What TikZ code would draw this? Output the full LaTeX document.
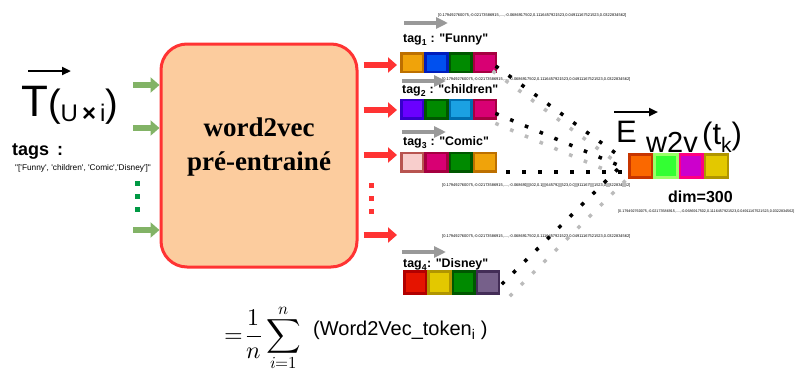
\documentclass[tikz,border=0pt]{standalone}
\usepackage{fontspec}
\usepackage{unicode-math}
\setmathfont{Latin Modern Math}
\setmainfont{Liberation Sans}[Ligatures=TeXOff]
\newfontfamily\serifb{Liberation Serif}
\usetikzlibrary{arrows.meta}
\definecolor{peach}{HTML}{FCCC9E}
\definecolor{boxred}{HTML}{FF3333}
\definecolor{garrow}{HTML}{82B366}
\definecolor{gdot}{HTML}{009944}
\definecolor{grayarr}{HTML}{999999}
\definecolor{dotgray}{HTML}{BBBBBB}
\definecolor{orF}{HTML}{F0A30A}\definecolor{orD}{HTML}{BD7000}
\definecolor{blF}{HTML}{0050EF}\definecolor{blD}{HTML}{001DBC}
\definecolor{grF}{HTML}{008A00}\definecolor{grD}{HTML}{005700}
\definecolor{pkF}{HTML}{D80073}\definecolor{pkD}{HTML}{A50040}
\definecolor{puF}{HTML}{6A00FF}\definecolor{puD}{HTML}{3700CC}
\definecolor{lbF}{HTML}{1BA1E2}\definecolor{lbD}{HTML}{006EAF}
\definecolor{lpF}{HTML}{F8CECC}\definecolor{lpD}{HTML}{B85450}
\definecolor{rdF}{HTML}{E51400}\definecolor{rdD}{HTML}{B20000}
\definecolor{yeF}{HTML}{E3C800}\definecolor{yeD}{HTML}{B09500}
\definecolor{mvF}{HTML}{76608A}\definecolor{mvD}{HTML}{432D57}
\definecolor{ooF}{HTML}{FA6800}\definecolor{ooD}{HTML}{C73500}
\definecolor{lgF}{HTML}{33FF33}\definecolor{lgD}{HTML}{99FF66}
\definecolor{mgF}{HTML}{CC00CC}\definecolor{mgD}{HTML}{FF0080}
\newcommand\vecstr{[0.179492760075,-0.02173586915,....,-0.0686917502,0.1116457921523,0.04911167521523,0.0322834562]}
\newcommand\vectxt{{\fontsize{3.95}{4}\selectfont\vecstr}}
\begin{document}
\begin{tikzpicture}[x=1pt,y=-1pt,
  sqbox/.style={draw, line width=2.5pt, minimum width=21.7pt, minimum height=18.5pt, inner sep=0pt},
  fatg/.style={draw=garrow, line width=6pt, -{Triangle[length=9pt,width=15pt]}},
  fatr/.style={draw=boxred, line width=6pt, -{Triangle[length=9pt,width=15pt]}},
  graya/.style={draw=grayarr, line width=4pt, -{Triangle[length=12pt,width=11pt]}},
  blacka/.style={draw=black, line width=2.5pt, -{Triangle[length=9pt,width=8pt]}},
  taglbl/.style={anchor=base west, font=\bfseries\fontsize{12.4}{12.4}\selectfont, inner sep=0pt},
  vlbl/.style={anchor=west, inner sep=0pt},
  bdots/.style={draw=black, line width=3.5pt, line cap=rect, dash pattern=on 0.1pt off 15.9pt},
  gdots/.style={draw=dotgray, line width=3.5pt, line cap=rect, dash pattern=on 0.1pt off 15.9pt},
  sqdot/.style={fill, minimum size=5pt, inner sep=0pt}
]
\useasboundingbox (0,0) rectangle (797,370);

% left input
\node[anchor=base west, inner sep=0pt] (tvec) at (21,116) {\fontsize{44}{44}\selectfont T\fontsize{38}{38}\selectfont(\raisebox{-5pt}{\fontsize{24}{24}\selectfont U\,\textbf{×}\,i})};
\coordinate (tarS) at (28,71);
\coordinate (tarE) at (71,71);
\draw[blacka] (tarS) -- (tarE);
\node[anchor=base west, inner sep=0pt, font=\bfseries\fontsize{18}{18}\selectfont] (tags) at (12,155) {tags\hspace{3pt} :};
\node[anchor=base west, inner sep=0pt, font=\fontsize{8.3}{8.3}\selectfont] (taglist) at (15,170) {"['Funny', 'children', 'Comic','Disney']"};

% main box
\node[draw=boxred, fill=peach, line width=3pt, rounded corners=26pt, minimum width=196pt, minimum height=223pt] (w2v) at (259,155.5) {};
\node[font=\serifb\bfseries\fontsize{27}{27}\selectfont, anchor=base] (w2vt1) at (259,136) {word2vec};
\node[font=\serifb\bfseries\fontsize{27}{27}\selectfont, anchor=base] (w2vt2) at (259,170) {pré-entrainé};

% green arrows
\foreach \yy/\nm in {85/ga, 128/gb, 230/gc} {
  \coordinate (\nm s) at (133,\yy);
  \draw[fatg] (\nm s) -- (w2v.west |- \nm s);
}
\foreach \yy/\nm in {183/gd1,196/gd2,209/gd3} \node[sqdot, gdot] (\nm) at (137,\yy) {};

% red arrows
\foreach \yy/\nm in {65/ra, 110/rb, 155/rc, 235/rd} {
  \coordinate (\nm e) at (397,\yy);
  \draw[fatr] (w2v.east |- \nm e) ++(5,0) -- (\nm e);
}
\foreach \yy/\nm in {185/rd1,198/rd2,211/rd3} \node[sqdot, boxred] (\nm) at (371,\yy) {};

% tag rows
% row 1
\node[vlbl] (v1) at (438,15) {\vectxt};
\coordinate (g1s) at (404,23); \coordinate (g1e) at (448,23);
\draw[graya] (g1s) -- (g1e);
\node[taglbl] (t1) at (403,42) {tag\textsubscript{1} : "Funny"};
\node[sqbox, fill=orF, draw=orD] (r1a) at (412.1,62.5) {};
\node[sqbox, fill=blF, draw=blD] (r1b) at (436.4,62.5) {};
\node[sqbox, fill=grF, draw=grD] (r1c) at (460.6,62.5) {};
\node[sqbox, fill=pkF, draw=pkD] (r1d) at (484.9,62.5) {};
% row 2
\node[vlbl] (v2) at (442,79) {\vectxt};
\coordinate (g2s) at (402,81); \coordinate (g2e) at (446,81);
\draw[graya] (g2s) -- (g2e);
\node[taglbl] (t2) at (402,93) {tag\textsubscript{2} : "children"};
\node[sqbox, fill=puF, draw=puD] (r2a) at (412.1,109) {};
\node[sqbox, fill=grF, draw=grD] (r2b) at (436.4,109) {};
\node[sqbox, fill=lbF, draw=lbD] (r2c) at (460.6,109) {};
\node[sqbox, fill=pkF, draw=pkD] (r2d) at (484.9,109) {};
% row 3
\coordinate (g3s) at (402,132); \coordinate (g3e) at (446,132);
\draw[graya] (g3s) -- (g3e);
\node[taglbl] (t3) at (403,145) {tag\textsubscript{3} : "Comic"};
\node[sqbox, fill=lpF, draw=lpD] (r3a) at (412.1,162) {};
\node[sqbox, fill=pkF, draw=pkD] (r3b) at (436.4,162) {};
\node[sqbox, fill=grF, draw=grD] (r3c) at (460.6,162) {};
\node[sqbox, fill=orF, draw=orD] (r3d) at (484.9,162) {};
\node[vlbl] (v3) at (442,185) {\vectxt};
% row 4
\node[vlbl] (v4) at (442,236) {\vectxt};
\coordinate (g4s) at (402,252); \coordinate (g4e) at (446,252);
\draw[graya] (g4s) -- (g4e);
\node[taglbl] (t4) at (403,267) {tag\textsubscript{4}: "Disney"};
\node[sqbox, minimum height=22pt, fill=rdF, draw=rdD] (r4a) at (415.1,282.5) {};
\node[sqbox, minimum height=22pt, fill=yeF, draw=yeD] (r4b) at (439.4,282.5) {};
\node[sqbox, minimum height=22pt, fill=grF, draw=grD] (r4c) at (463.6,282.5) {};
\node[sqbox, minimum height=22pt, fill=mvF, draw=mvD] (r4d) at (487.9,282.5) {};

% result
\coordinate (eas) at (614,112); \coordinate (eae) at (658,112);
\draw[blacka] (eas) -- (eae);
\node[anchor=base west, inner sep=0pt, font=\fontsize{31}{31}\selectfont] (E) at (616,142) {E};
\node[anchor=base west, inner sep=0pt, font=\fontsize{29}{29}\selectfont] (w2vsub) at (646,152) {w2v};
\node[anchor=base west, inner sep=0pt, font=\fontsize{31}{31}\selectfont] (tk) at (702,144) {(t\raisebox{-8pt}{\fontsize{21}{21}\selectfont k})};
\node[sqbox, minimum width=22.7pt, minimum height=23pt, fill=ooF, draw=ooD] (ea) at (640.6,166) {};
\node[sqbox, minimum width=22.7pt, minimum height=23pt, fill=lgF, draw=lgD] (eb) at (665.9,166) {};
\node[sqbox, minimum width=22.7pt, minimum height=23pt, fill=mgF, draw=mgD] (ec) at (691.1,166) {};
\node[sqbox, minimum width=22.7pt, minimum height=23pt, fill=yeF, draw=yeD] (ed) at (716.4,166) {};
\node[anchor=base west, inner sep=0pt, font=\bfseries\fontsize{16}{16}\selectfont] (dim) at (668,202) {dim=300};
\node[vlbl] (v5) at (618,212) {\fontsize{3.7}{4}\selectfont\vecstr};

% dotted connectors
\coordinate (d1s) at (497,67); \coordinate (d1e) at (625,160);
\coordinate (d1gs) at (494,72); \coordinate (d1ge) at (616,162);
\coordinate (d2s) at (497,114); \coordinate (d2e) at (625,168);
\coordinate (d2gs) at (497,124); \coordinate (d2ge) at (608,171);
\coordinate (d3s) at (508,172); \coordinate (d3e) at (624,172);
\coordinate (d3gs) at (528,185); \coordinate (d3ge) at (624,185);
\coordinate (d4s) at (503,283); \coordinate (d4e) at (622,165);
\coordinate (d4gs) at (511,295); \coordinate (d4ge) at (628,178);
\draw[gdots] (d1gs) -- (d1ge);
\draw[gdots] (d2gs) -- (d2ge);
\draw[gdots] (d3gs) -- (d3ge);
\draw[gdots] (d4gs) -- (d4ge);
\draw[bdots] (d1s) -- (d1e);
\draw[bdots] (d2s) -- (d2e);
\draw[bdots] (d3s) -- (d3e);
\draw[bdots] (d4s) -- (d4e);

% formula
\node[anchor=base west, inner sep=0pt] (formula) at (224,342) {\fontsize{24}{24}\selectfont $\displaystyle =\!\frac{1}{n}\sum_{i=1}^{n}$};
\node[anchor=base west, inner sep=0pt, font=\fontsize{20}{20}\selectfont] (tok) at (313,335) {(Word2Vec\_token\textsubscript{i} )};
\end{tikzpicture}
\end{document}
